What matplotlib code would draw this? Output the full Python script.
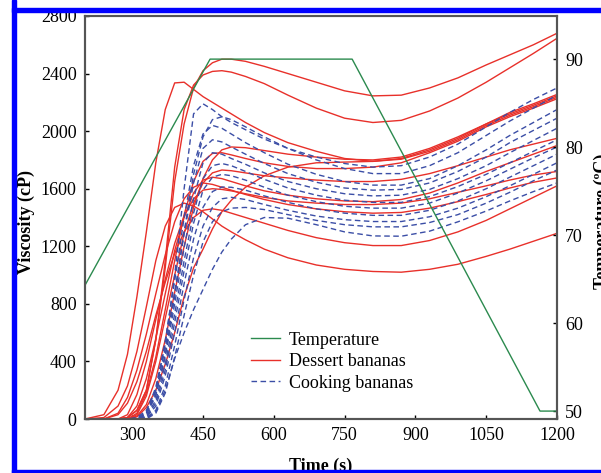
import matplotlib.pyplot as plt
from matplotlib.lines import Line2D
from matplotlib.patches import Rectangle

plt.rcParams["font.family"] = ["Liberation Serif", "DejaVu Serif"]
plt.rcParams["font.size"] = 13

# time grid (s) shared by all viscosity curves
t = [200, 240, 270, 290, 310, 330, 350, 370, 390, 410, 430, 450, 470, 490,
     510, 540, 580, 630, 690, 750, 810, 870, 930, 990, 1050, 1100, 1150, 1200]

# dessert bananas, viscosity (cP)
dessert = [
    [0, 0, 0, 10, 60, 200, 550, 1050, 1650, 2050, 2300, 2420, 2475, 2500, 2500,
     2485, 2450, 2400, 2340, 2280, 2245, 2250, 2300, 2370, 2460, 2530, 2600, 2680],
    [0, 0, 0, 10, 60, 200, 550, 1100, 1750, 2150, 2320, 2390, 2415, 2420, 2410,
     2380, 2330, 2250, 2160, 2090, 2060, 2075, 2140, 2230, 2340, 2440, 2540, 2645],
    [0, 30, 200, 450, 850, 1300, 1780, 2150, 2335, 2340, 2290, 2240, 2200, 2160, 2120,
     2060, 1990, 1920, 1860, 1810, 1790, 1810, 1870, 1950, 2050, 2130, 2190, 2255],
    [0, 0, 0, 0, 20, 100, 280, 550, 880, 1200, 1470, 1670, 1800, 1870, 1890,
     1885, 1865, 1840, 1820, 1805, 1800, 1820, 1880, 1960, 2050, 2120, 2180, 2245],
    [0, 0, 0, 0, 40, 180, 430, 760, 1100, 1420, 1650, 1790, 1845, 1850, 1835,
     1810, 1780, 1755, 1740, 1740, 1750, 1780, 1850, 1930, 2030, 2100, 2160, 2225],
    [0, 0, 0, 0, 15, 80, 200, 380, 600, 850, 1050, 1180, 1320, 1440, 1520,
     1610, 1690, 1750, 1780, 1785, 1790, 1805, 1860, 1940, 2040, 2110, 2170, 2235],
    [0, 0, 0, 0, 30, 160, 400, 700, 1000, 1290, 1500, 1640, 1710, 1730, 1725,
     1710, 1690, 1675, 1660, 1650, 1650, 1665, 1705, 1760, 1820, 1870, 1910, 1950],
    [0, 0, 0, 10, 90, 280, 560, 870, 1170, 1400, 1570, 1660, 1680, 1670, 1650,
     1620, 1585, 1555, 1530, 1515, 1510, 1525, 1570, 1640, 1720, 1780, 1840, 1900],
    [0, 0, 0, 30, 170, 400, 690, 970, 1220, 1410, 1530, 1590, 1600, 1595, 1585,
     1565, 1540, 1515, 1500, 1490, 1490, 1500, 1530, 1575, 1620, 1660, 1695, 1720],
    [0, 0, 40, 150, 340, 590, 870, 1140, 1370, 1530, 1610, 1640, 1630, 1610, 1590,
     1560, 1525, 1490, 1460, 1440, 1430, 1435, 1465, 1510, 1560, 1605, 1645, 1675],
    [0, 0, 30, 110, 260, 470, 720, 950, 1150, 1300, 1400, 1450, 1460, 1450, 1430,
     1400, 1360, 1310, 1260, 1225, 1205, 1205, 1240, 1300, 1380, 1460, 1540, 1620],
    [0, 10, 90, 230, 470, 780, 1100, 1340, 1470, 1500, 1480, 1440, 1390, 1340, 1300,
     1245, 1180, 1120, 1070, 1040, 1025, 1020, 1040, 1075, 1130, 1180, 1235, 1290],
]

# cooking bananas, viscosity (cP)
cooking = [
    [0, 0, 0, 0, 10, 60, 200, 520, 1000, 1600, 2120, 2190, 2150, 2100, 2060,
     2010, 1945, 1880, 1820, 1775, 1750, 1760, 1820, 1910, 2030, 2130, 2220, 2300],
    [0, 0, 0, 0, 0, 40, 170, 450, 850, 1300, 1700, 1960, 2080, 2100, 2080,
     2030, 1960, 1880, 1800, 1740, 1705, 1705, 1760, 1850, 1970, 2070, 2160, 2250],
    [0, 0, 0, 0, 5, 50, 220, 540, 960, 1400, 1760, 1980, 2040, 2020, 1980,
     1920, 1850, 1770, 1700, 1650, 1625, 1625, 1670, 1760, 1870, 1970, 2060, 2150],
    [0, 0, 0, 0, 0, 40, 190, 490, 880, 1290, 1640, 1880, 1940, 1925, 1890,
     1840, 1775, 1705, 1645, 1605, 1590, 1595, 1640, 1720, 1820, 1920, 2005, 2090],
    [0, 0, 0, 0, 0, 30, 160, 430, 800, 1190, 1530, 1780, 1850, 1840, 1810,
     1770, 1710, 1650, 1600, 1565, 1550, 1555, 1595, 1670, 1760, 1850, 1935, 2020],
    [0, 0, 0, 0, 0, 20, 130, 380, 730, 1100, 1430, 1670, 1760, 1775, 1760,
     1720, 1665, 1605, 1555, 1520, 1505, 1505, 1545, 1615, 1700, 1780, 1860, 1940],
    [0, 0, 0, 0, 0, 15, 110, 340, 670, 1030, 1360, 1590, 1680, 1700, 1690,
     1660, 1610, 1555, 1510, 1478, 1465, 1465, 1500, 1570, 1655, 1735, 1815, 1890],
    [0, 0, 0, 0, 0, 10, 90, 300, 600, 940, 1250, 1470, 1580, 1612, 1610,
     1590, 1550, 1505, 1460, 1430, 1415, 1415, 1450, 1515, 1600, 1680, 1760, 1840],
    [0, 0, 0, 0, 0, 5, 60, 230, 510, 830, 1120, 1340, 1470, 1530, 1540,
     1525, 1490, 1450, 1410, 1385, 1372, 1372, 1405, 1465, 1545, 1620, 1700, 1780],
    [0, 0, 0, 0, 0, 0, 40, 180, 430, 720, 1000, 1230, 1370, 1440, 1465,
     1470, 1455, 1420, 1380, 1350, 1335, 1335, 1365, 1420, 1500, 1575, 1655, 1730],
    [0, 0, 0, 0, 0, 5, 50, 200, 420, 600, 760, 900, 1040, 1160, 1250,
     1350, 1400, 1395, 1350, 1300, 1272, 1270, 1305, 1370, 1445, 1515, 1580, 1640],
]

# temperature profile
temp_t = [200, 465, 766, 1164, 1200]
temp_c = [64.3, 90, 90, 50, 50]

red = "#e8302a"
blue = "#3b4ea6"
green = "#2b8a4e"

fig = plt.figure(figsize=(6.01, 4.73), dpi=100)
ax = fig.add_axes([85 / 601, 54 / 473, 472 / 601, 403 / 473])
ax2 = ax.twinx()

for v in dessert:
    ax.plot(t, v, color=red, lw=1.0)
for v in cooking:
    ax.plot(t, v, color=blue, lw=1.0, dashes=(4, 2.5))
ax2.plot(temp_t, temp_c, color=green, lw=1.0)

ax.set_xlim(200, 1200)
ax.set_ylim(0, 2800)
ax2.set_ylim(49.1, 94.9)
ax.set_xticks(range(300, 1201, 150))
ax.set_yticks(range(0, 2801, 400))
ax2.set_yticks(range(50, 91, 10))

for a in (ax, ax2):
    a.tick_params(direction="in", length=3, width=1, labelsize=13, pad=6)
    for s in a.spines.values():
        s.set_color("#555555")
        s.set_linewidth(1.5)

ax.set_xlabel("Time (s)", fontweight="bold", fontsize=13)
ax.xaxis.set_label_coords(0.5, -0.095)
ax.set_ylabel("Viscosity (cP)", fontweight="bold", fontsize=13)
ax.yaxis.set_label_coords(-0.106, 0.49)
ax2.set_ylabel("Temperature (ºC)", fontweight="bold", fontsize=13)
ax2.yaxis.set_label_coords(1.078, 0.49)

handles = [
    Line2D([], [], color=green, lw=1.0),
    Line2D([], [], color=red, lw=1.0),
    Line2D([], [], color=blue, lw=1.0, dashes=(4, 2.5)),
]
ax2.legend(handles, ["Temperature", "Dessert bananas", "Cooking bananas"],
           loc="upper left", bbox_to_anchor=(0.317, 0.257), frameon=False,
           handlelength=1.6, handletextpad=0.5, labelspacing=0.25, fontsize=13)

# blue frame of the source picture
for x, y, w, h in [(12, 0, 4, 473), (12, 461, 589, 4), (12, 0, 589, 3)]:
    fig.patches.append(Rectangle((x / 601, y / 473), w / 601, h / 473,
                                 transform=fig.transFigure, color="#0000ff",
                                 zorder=10))

fig.savefig("out.png", dpi=100)
